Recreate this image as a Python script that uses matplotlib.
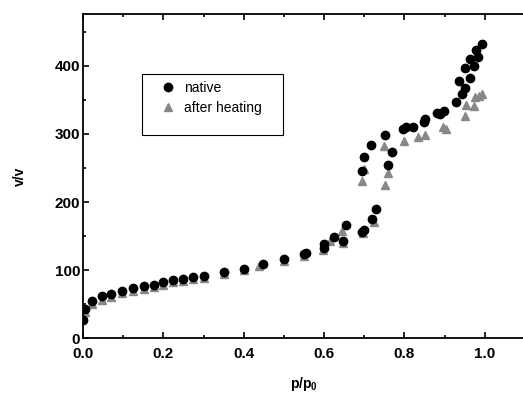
import matplotlib
matplotlib.use("Agg")
import matplotlib.pyplot as plt
from matplotlib.ticker import MultipleLocator
from matplotlib.patches import Rectangle

plt.rcParams['font.family'] = ['Liberation Sans', 'DejaVu Sans']

# native sample
native_x = [0.0, 0.005, 0.023, 0.048, 0.07, 0.096, 0.124, 0.151, 0.177, 0.2,
            0.225, 0.25, 0.274, 0.30, 0.35, 0.40, 0.448, 0.50, 0.55, 0.555,
            0.60, 0.60, 0.624, 0.648, 0.654, 0.694, 0.699, 0.718, 0.729,
            0.695, 0.70, 0.716, 0.752, 0.758, 0.768, 0.797, 0.805, 0.822,
            0.849, 0.851, 0.88, 0.888, 0.899, 0.928, 0.936, 0.944, 0.951,
            0.951, 0.964, 0.963, 0.974, 0.978, 0.983, 0.993]
native_y = [27, 43, 55, 62, 65.5, 70, 73.5, 77, 79, 82,
            85, 87, 89.6, 92, 97, 102, 108.6, 116, 124, 125.7,
            138, 133, 148, 143, 166, 156.5, 158.5, 175, 190,
            245.5, 265.5, 283, 298, 254, 274, 307.5, 309.5, 310.5,
            317, 321.7, 331, 328.6, 333.4, 347, 378, 359, 366.7,
            396.5, 381.8, 409.7, 399.4, 423, 412.6, 431.7]

# after heating
heat_x = [0.0, 0.005, 0.023, 0.048, 0.07, 0.096, 0.124, 0.151, 0.177, 0.2,
          0.225, 0.25, 0.274, 0.30, 0.35, 0.40, 0.439, 0.50, 0.55,
          0.598, 0.615, 0.644, 0.648, 0.697, 0.725,
          0.695, 0.700, 0.75, 0.752, 0.759, 0.80, 0.833, 0.851, 0.895,
          0.903, 0.951, 0.952, 0.973, 0.975, 0.985, 0.993]
heat_y = [33, 38, 50, 57, 61, 66, 70, 73, 76, 79,
          82, 84, 87, 89, 95, 101, 106.6, 113, 121,
          129.6, 143.5, 158, 140, 154, 170,
          231, 248, 282.6, 225, 243, 290, 295, 298, 310,
          307.5, 325.6, 341.8, 340.7, 354, 356, 358]

fig = plt.figure(figsize=(5.23, 3.94), dpi=100)
ax = fig.add_axes([83 / 523, (394 - 338.4) / 394, 442 / 523, (338.4 - 14) / 394])

ax.plot(heat_x, heat_y, linestyle='none', marker='^', markersize=6,
        color='#888888', label='after heating')
ax.plot(native_x, native_y, linestyle='none', marker='o', markersize=6,
        color='black', label='native')

ax.set_xlim(0, 1.1)
ax.set_ylim(0, 475.7)
ax.xaxis.set_major_locator(MultipleLocator(0.2))
ax.xaxis.set_minor_locator(MultipleLocator(0.1))
ax.yaxis.set_major_locator(MultipleLocator(100))
ax.yaxis.set_minor_locator(MultipleLocator(50))
ax.xaxis.set_major_formatter(plt.FormatStrFormatter('%.1f'))
ax.tick_params(which='both', direction='in', top=True, width=1.2)
ax.tick_params(which='major', length=4, labelsize=11, pad=2)
ax.tick_params(which='minor', length=2.5)
ax.tick_params(axis='x', which='major', pad=6)
ax.tick_params(axis='y', which='both', right=False)
for lab in ax.get_xticklabels() + ax.get_yticklabels():
    lab.set_fontweight('bold')
for sp in ax.spines.values():
    sp.set_linewidth(1.3)
ax.spines['right'].set_visible(False)

ax.set_xlabel('p/p$_\\mathregular{0}$', fontsize=10, fontweight='bold', labelpad=10)
ax.set_ylabel('v/v', fontsize=10, fontweight='bold', labelpad=20)

# legend entries, frame drawn separately (box is taller than the entries)
h, l = ax.get_legend_handles_labels()
leg = ax.legend(h[::-1], l[::-1], loc='upper left', bbox_to_anchor=(0.152, 0.815),
                fontsize=10, frameon=False, handletextpad=0.45,
                borderpad=0.0, labelspacing=0.45, handlelength=1.5)
box_x0 = (141.7 - 83) / 442
box_y0 = (338.4 - 135) / (338.4 - 14)
box_w = (282.7 - 141.7) / 442
box_h = (135 - 74) / (338.4 - 14)
ax.add_patch(Rectangle((box_x0, box_y0), box_w, box_h, transform=ax.transAxes,
                       fill=False, edgecolor='black', linewidth=0.8, zorder=5))

fig.savefig('out.png', dpi=100)
